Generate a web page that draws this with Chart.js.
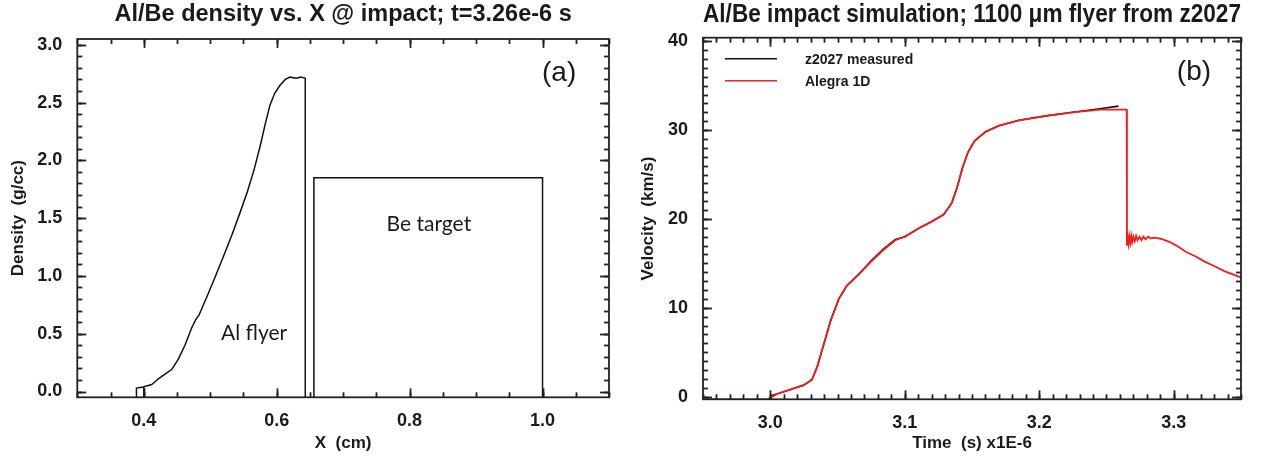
<!DOCTYPE html>
<html>
<head>
<meta charset="utf-8">
<script src="https://cdn.jsdelivr.net/npm/chart.js@4.4.1/dist/chart.umd.min.js"></script>
<style>
  html, body { margin: 0; padding: 0; background: #fff; }
  body { width: 1263px; height: 456px; position: relative; overflow: hidden; }
  .panel { position: absolute; top: 0; height: 456px; }
  #panelA { left: 0; width: 686px; }
  #panelB { left: 630px; width: 633px; }
</style>
</head>
<body>
<div class="panel" id="panelA"><canvas id="densityChart"></canvas></div>
<div class="panel" id="panelB"><canvas id="velocityChart"></canvas></div>
<script>
// (a) density profile at impact
const flyerX = [0.389, 0.389, 0.400, 0.400, 0.400, 0.412, 0.422, 0.432, 0.442, 0.452, 0.462, 0.472, 0.478, 0.483, 0.495, 0.508,
  0.520, 0.533, 0.545, 0.556, 0.566, 0.575, 0.583, 0.590, 0.597, 0.605, 0.613, 0.620, 0.630, 0.636, 0.643, 0.643];
const flyerDensity = [-0.05, 0.03, 0.04, -0.05, 0.04, 0.06, 0.11, 0.15, 0.19, 0.28, 0.40, 0.55, 0.62, 0.66, 0.82, 1.00,
  1.17, 1.36, 1.55, 1.73, 1.92, 2.12, 2.32, 2.48, 2.58, 2.65, 2.70, 2.72, 2.71, 2.72, 2.71, -0.05];
const targetX = [0.656, 0.656, 1.0, 1.0];
const targetDensity = [-0.05, 1.85, 1.85, -0.05];
const xTicksA = [0.4, 0.6, 0.8, 1.0];
const densityTicks = [0.0, 0.5, 1.0, 1.5, 2.0, 2.5, 3.0];

// (b) velocity history
const alegraTime = [2.95, 2.998, 3.005, 3.015, 3.025, 3.031, 3.035, 3.040, 3.045, 3.051, 3.057, 3.066, 3.075, 3.084, 3.093,
  3.100, 3.111, 3.120, 3.129, 3.135, 3.139, 3.143, 3.147, 3.152, 3.160, 3.170, 3.185, 3.205, 3.225, 3.245, 3.265,
  3.2652, 3.2658, 3.2664, 3.2670, 3.2677, 3.2684, 3.2691, 3.2700, 3.2710, 3.2720, 3.2730, 3.2745, 3.2760, 3.2775,
  3.2790, 3.2810, 3.2830, 3.2860, 3.2890, 3.292, 3.297, 3.302, 3.309, 3.316, 3.323, 3.330, 3.338, 3.345, 3.350];
const alegraVel = [-0.3, -0.3, 0.3, 0.8, 1.3, 1.9, 3.4, 6.0, 8.6, 11.0, 12.5, 13.8, 15.2, 16.5, 17.6,
  18.0, 19.0, 19.7, 20.5, 21.8, 23.6, 25.8, 27.5, 28.8, 29.8, 30.5, 31.1, 31.6, 32.0, 32.3, 32.3,
  17.0, 17.9, 17.2, 18.0, 17.3, 18.1, 17.4, 18.0, 17.5, 18.1, 17.6, 18.0, 17.6, 18.0,
  17.7, 18.0, 17.8, 17.9, 17.8, 17.7, 17.4, 17.0, 16.3, 15.8, 15.2, 14.7, 14.1, 13.7, 13.4];
const measuredTime = [3.000, 3.005, 3.015, 3.025, 3.031, 3.035, 3.040, 3.045, 3.051, 3.057, 3.066, 3.075, 3.084, 3.093,
  3.100, 3.111, 3.120, 3.129, 3.135, 3.139, 3.143, 3.147, 3.152, 3.160, 3.170, 3.185, 3.205, 3.225, 3.245, 3.259];
const measuredVel = [0.1, 0.3, 0.8, 1.3, 1.9, 3.4, 6.0, 8.6, 11.0, 12.5, 13.8, 15.3, 16.6, 17.7,
  18.0, 19.0, 19.7, 20.5, 21.8, 23.6, 25.8, 27.5, 28.8, 29.8, 30.5, 31.1, 31.6, 32.0, 32.4, 32.7];
const timeTicks = [3.0, 3.1, 3.2, 3.3];
const velocityTicks = [0, 10, 20, 30, 40];
const seriesNames = ['z2027 measured', 'Alegra 1D'];
const seriesColors = ['#111111', '#f01e1e'];

const toPoints = (xs, ys) => xs.map((x, i) => ({ x: x, y: ys[i] }));

Chart.defaults.font.family = '"Liberation Sans", Arial, sans-serif';
Chart.defaults.color = '#1a1a1a';

function stepValues(min, max, step) {
  const out = [];
  const first = Math.ceil(min / step - 1e-6);
  const last = Math.floor(max / step + 1e-6);
  for (let n = first; n <= last; n++) out.push(n * step);
  return out;
}

// IDL-style box with inward major/minor ticks on all four sides
const boxPlugin = {
  id: 'idlBox',
  afterDraw(chart, args, opts) {
    const ctx = chart.ctx;
    const a = chart.chartArea;
    const xs = chart.scales.x, ys = chart.scales.y;
    ctx.save();
    ctx.setLineDash([]);
    ctx.strokeStyle = '#222';
    ctx.lineWidth = 1.8;
    ctx.strokeRect(a.left, a.top, a.right - a.left, a.bottom - a.top);
    const tickX = (v, len) => {
      const px = Math.round(xs.getPixelForValue(v)) + 0.5;
      ctx.beginPath();
      ctx.moveTo(px, a.bottom);
      ctx.lineTo(px, a.bottom - len);
      ctx.stroke();
      ctx.beginPath();
      ctx.moveTo(px, a.top);
      ctx.lineTo(px, a.top + len);
      ctx.stroke();
    };
    const tickY = (v, len) => {
      const py = Math.round(ys.getPixelForValue(v)) + 0.5;
      ctx.beginPath();
      ctx.moveTo(a.left, py);
      ctx.lineTo(a.left + len, py);
      ctx.stroke();
      ctx.beginPath();
      ctx.moveTo(a.right, py);
      ctx.lineTo(a.right - len, py);
      ctx.stroke();
    };
    stepValues(xs.min, xs.max, opts.xMinor).forEach(v => tickX(v, 5));
    stepValues(ys.min, ys.max, opts.yMinor).forEach(v => tickY(v, 5));
    xs.ticks.forEach(t => tickX(t.value, 9));
    ys.ticks.forEach(t => tickY(t.value, 9));
    ctx.restore();
  }
};

// free text labels placed in data coordinates, plus an inline legend
const notesPlugin = {
  id: 'notes',
  afterDraw(chart, args, opts) {
    const { ctx, chartArea: a, scales: { x, y } } = chart;
    ctx.save();
    ctx.textAlign = 'center';
    ctx.textBaseline = 'middle';
    ctx.fillStyle = '#1a1a1a';
    (opts.labels || []).forEach(l => {
      ctx.font = l.font;
      ctx.fillText(l.text, x.getPixelForValue(l.x), y.getPixelForValue(l.y));
    });
    if (opts.legend) {
      const lg = opts.legend;
      ctx.font = 'bold 14px "Liberation Sans", Arial, sans-serif';
      ctx.textAlign = 'left';
      lg.names.forEach((name, i) => {
        const yy = a.top + 21 + i * 22;
        ctx.strokeStyle = lg.colors[i];
        ctx.lineWidth = 1.6;
        ctx.beginPath();
        ctx.moveTo(a.left + 22, yy); ctx.lineTo(a.left + 74, yy);
        ctx.stroke();
        ctx.fillText(name, a.left + 102, yy + 1);
      });
    }
    ctx.restore();
  }
};

const tickFont = { size: 18, weight: 'bold' };
const titleFont = { size: 17, weight: 'bold' };

function baseOptions(o) {
  return {
    responsive: true,
    maintainAspectRatio: false,
    animation: false,
    layout: { padding: { left: 0, right: o.padRight, top: 0, bottom: 0 } },
    plugins: {
      legend: { display: false },
      tooltip: { enabled: false },
      title: {
        display: true, text: o.title, fullSize: false,
        font: { size: o.titleSize, weight: 'bold' }, color: '#1a1a1a',
        padding: { top: 0, bottom: o.titleGap }
      },
      idlBox: { xMinor: o.xMinor, yMinor: o.yMinor },
      notes: o.notes
    },
    scales: {
      x: {
        type: 'linear', min: o.xMin, max: o.xMax,
        afterBuildTicks: s => { s.ticks = o.xTicks.map(v => ({ value: v })); },
        afterFit: s => { s.height = o.xHeight; },
        grid: { display: false }, border: { display: false },
        ticks: { font: tickFont, padding: 5, maxRotation: 0, callback: v => v.toFixed(1) },
        title: { display: true, text: o.xTitle, font: titleFont, padding: { top: 0, bottom: 2 } }
      },
      y: {
        type: 'linear', min: o.yMin, max: o.yMax,
        afterBuildTicks: s => { s.ticks = o.yTicks.map(v => ({ value: v })); },
        afterFit: s => { s.width = o.yWidth; },
        grid: { display: false }, border: { display: false },
        ticks: { font: tickFont, padding: 7, callback: o.yFormat },
        title: { display: true, text: o.yTitle, font: titleFont, padding: { top: 8, bottom: 0 } }
      }
    }
  };
}

window.onload = function () {
  new Chart(document.getElementById('densityChart'), {
    type: 'scatter',
    data: {
      datasets: [
        { data: toPoints(flyerX, flyerDensity), showLine: true, borderColor: '#111', borderWidth: 1.5, pointRadius: 0 },
        { data: toPoints(targetX, targetDensity), showLine: true, borderColor: '#111', borderWidth: 1.5, pointRadius: 0 }
      ]
    },
    options: baseOptions({
      title: 'Al/Be density vs. X @ impact; t=3.26e-6 s', titleSize: 23.5, titleGap: 10.8,
      padRight: 77, xHeight: 58.7, yWidth: 77.3,
      xMin: 0.3, xMax: 1.1, yMin: -0.05, yMax: 3.05,
      xTicks: xTicksA, yTicks: densityTicks, xMinor: 0.05, yMinor: 0.1,
      xTitle: 'X  (cm)', yTitle: 'Density  (g/cc)', yFormat: v => v.toFixed(1),
      notes: {
        labels: [
          { text: '(a)', x: 1.025, y: 2.75, font: '28px "Liberation Sans", Arial, sans-serif' },
          { text: 'Be target', x: 0.829, y: 1.45, font: '21px Lato, "Open Sans", sans-serif' },
          { text: 'Al flyer', x: 0.566, y: 0.50, font: '21px Lato, "Open Sans", sans-serif' }
        ]
      }
    }),
    plugins: [boxPlugin, notesPlugin]
  });

  new Chart(document.getElementById('velocityChart'), {
    type: 'scatter',
    data: {
      datasets: [
        { label: seriesNames[0], data: toPoints(measuredTime, measuredVel), showLine: true, borderColor: seriesColors[0], borderWidth: 1.6, pointRadius: 0, order: 2 },
        { label: seriesNames[1], data: toPoints(alegraTime, alegraVel), showLine: true, borderColor: seriesColors[1], borderWidth: 1.8, pointRadius: 0, order: 1 }
      ]
    },
    options: baseOptions({
      title: 'Al/Be impact simulation; 1100 \u03bcm flyer from z2027', titleSize: 25, titleGap: 7.7,
      padRight: 22, xHeight: 56.7, yWidth: 73,
      xMin: 2.95, xMax: 3.35, yMin: -0.3, yMax: 40.4,
      xTicks: timeTicks, yTicks: velocityTicks, xMinor: 0.01, yMinor: 1,
      xTitle: 'Time  (s) x1E-6', yTitle: 'Velocity  (km/s)', yFormat: v => String(v),
      notes: {
        labels: [
          { text: '(b)', x: 3.315, y: 36.5, font: '28px "Liberation Sans", Arial, sans-serif' }
        ],
        legend: { names: seriesNames, colors: seriesColors }
      }
    }),
    plugins: [boxPlugin, notesPlugin]
  });
};
</script>
</body>
</html>
